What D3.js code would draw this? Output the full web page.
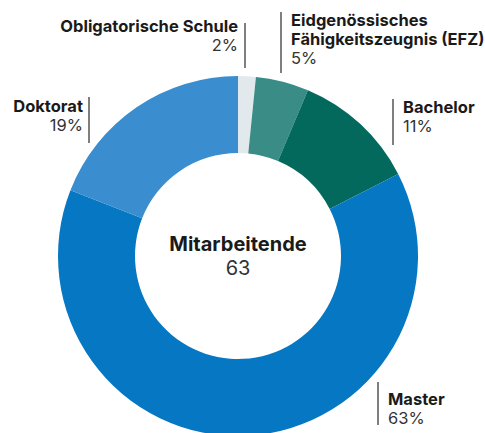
<!DOCTYPE html>
<html>
<head>
<meta charset="utf-8">
<script src="https://cdn.jsdelivr.net/npm/d3@7"></script>
<style>
  html, body { margin: 0; padding: 0; background: #fff; }
  svg { display: block; font-family: Inter, Roboto, "Noto Sans", sans-serif; }
  .lbl { font-weight: 700; font-size: 16.5px; fill: #1a1a1a; }
  .pct { font-weight: 400; font-size: 16.5px; fill: #333; }
</style>
</head>
<body>
<div id="chart"></div>
<script>
// Data: number of employees by highest degree
const categories = ['Obligatorische Schule', 'Eidgenössisches Fähigkeitszeugnis (EFZ)', 'Bachelor', 'Master', 'Doktorat'];
const counts = [1, 3, 7, 40, 12];
const colors = ['#e2e9ed', '#3a8c86', '#03695d', '#0677c3', '#3a8ecf'];
const centerTitle = 'Mitarbeitende';

// Label placement (layout only): text lines, anchor, position, separator line
const labelLayout = [
    { lines: ['Obligatorische Schule'], anchor: 'end', x: 238, y: 32, line: [245, 23, 68] },
    { lines: ['Eidgenössisches', 'Fähigkeitszeugnis (EFZ)'], anchor: 'start', x: 291, y: 26, line: [281, 12, 73] },
    { lines: ['Bachelor'], anchor: 'start', x: 403, y: 113, line: [393, 99, 145] },
    { lines: ['Master'], anchor: 'start', x: 388, y: 405, line: [378, 382, 425] },
    { lines: ['Doktorat'], anchor: 'end', x: 83, y: 112, line: [89, 97, 143] }
];

const width = 485, height = 433;
const cx = 238, cy = 256;
const outerR = 180, innerR = 103;
const lineHeight = 19;

const total = d3.sum(counts);
const data = categories.map((c, i) => ({ name: c, value: counts[i], color: colors[i] }));

const svg = d3.select('#chart')
    .append('svg')
    .attr('width', width)
    .attr('height', height);

const pie = d3.pie()
    .sort(null)
    .value(d => d.value);

const arc = d3.arc()
    .innerRadius(innerR)
    .outerRadius(outerR);

const g = svg.append('g')
    .attr('transform', `translate(${cx},${cy})`);

g.selectAll('path')
    .data(pie(data))
    .enter()
    .append('path')
    .attr('d', arc)
    .style('fill', d => d.data.color);

// Center text
g.append('text')
    .attr('text-anchor', 'middle')
    .attr('y', -5)
    .style('font-weight', 700)
    .style('font-size', '20px')
    .style('fill', '#1a1a1a')
    .text(centerTitle);

g.append('text')
    .attr('text-anchor', 'middle')
    .attr('y', 19)
    .style('font-size', '20px')
    .style('fill', '#333')
    .text(total);

// Labels
labelLayout.forEach((l, i) => {
    const lab = svg.append('g');
    lab.append('line')
        .attr('x1', l.line[0]).attr('x2', l.line[0])
        .attr('y1', l.line[1]).attr('y2', l.line[2])
        .style('stroke', '#555')
        .style('stroke-width', 1.5);

    const t = lab.append('text')
        .attr('text-anchor', l.anchor)
        .attr('x', l.x)
        .attr('y', l.y);
    l.lines.forEach((s, j) => {
        t.append('tspan')
            .attr('class', 'lbl')
            .attr('x', l.x)
            .attr('dy', j === 0 ? 0 : lineHeight)
            .text(s);
    });
    t.append('tspan')
        .attr('class', 'pct')
        .attr('x', l.x)
        .attr('dy', lineHeight)
        .text(Math.round(counts[i] / total * 100) + '%');
});
</script>
</body>
</html>
